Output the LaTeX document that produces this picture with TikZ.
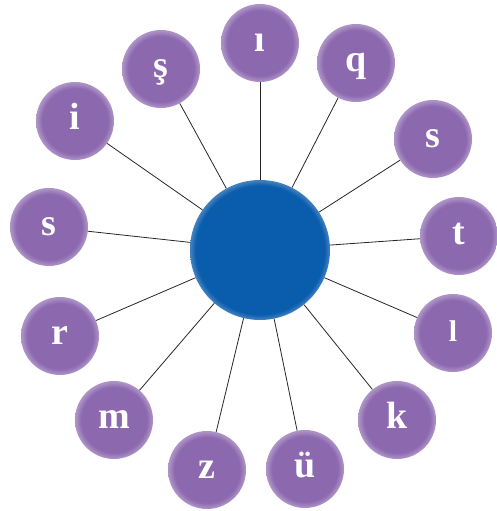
\documentclass[tikz,border=0pt]{standalone}
\usepackage{fontspec}
\setmainfont{Liberation Serif}
\definecolor{pc}{RGB}{140,104,175}
\colorlet{pcl}{pc!72!white}
\definecolor{bc}{RGB}{10,92,172}
\colorlet{bcl}{bc!78!white}
\pgfdeclareradialshading{purplerim}{\pgfpoint{0bp}{0bp}}{color(0bp)=(pc); color(21bp)=(pc); color(24.6bp)=(pcl); color(25bp)=(pcl); color(50bp)=(pcl)}
\pgfdeclareradialshading{bluerim}{\pgfpoint{0bp}{0bp}}{color(0bp)=(bc); color(23bp)=(bc); color(24.8bp)=(bcl); color(25bp)=(bcl); color(50bp)=(bcl)}
\begin{document}
\begin{tikzpicture}[x=1pt,y=-1pt,
  ball/.style={circle, minimum size=78pt, inner sep=0pt, shading=purplerim,
    text=white, font=\bfseries\fontsize{38}{38}\selectfont,
    text height=17.5pt, text depth=0pt},
  small/.style={font=\bfseries\fontsize{30}{30}\selectfont},
  hub/.style={circle, minimum size=140pt, inner sep=0pt, shading=bluerim},
  spoke/.style={draw=black!85, line width=0.8pt}]
\useasboundingbox (0,0) rectangle (497,511);
\node[hub] (c) at (260,250) {};
\node[ball] (n1) at (260,43) {ı};
\node[ball] (n2) at (356,63) {q};
\node[ball] (n3) at (433,139) {s};
\node[ball] (n4) at (459,236) {t};
\node[ball,small] (n5) at (453,333) {l};
\node[ball] (n6) at (397,420) {k};
\node[ball] (n7) at (305,469) {ü};
\node[ball] (n8) at (207,470) {z};
\node[ball] (n9) at (114,420) {m};
\node[ball] (n10) at (60,336) {r};
\node[ball] (n11) at (49,227) {s};
\node[ball] (n12) at (75,121) {i};
\node[ball] (n13) at (161,69) {ş};
\foreach \k in {1,...,13}{\draw[spoke] (c) -- (n\k);}
\end{tikzpicture}
\end{document}
